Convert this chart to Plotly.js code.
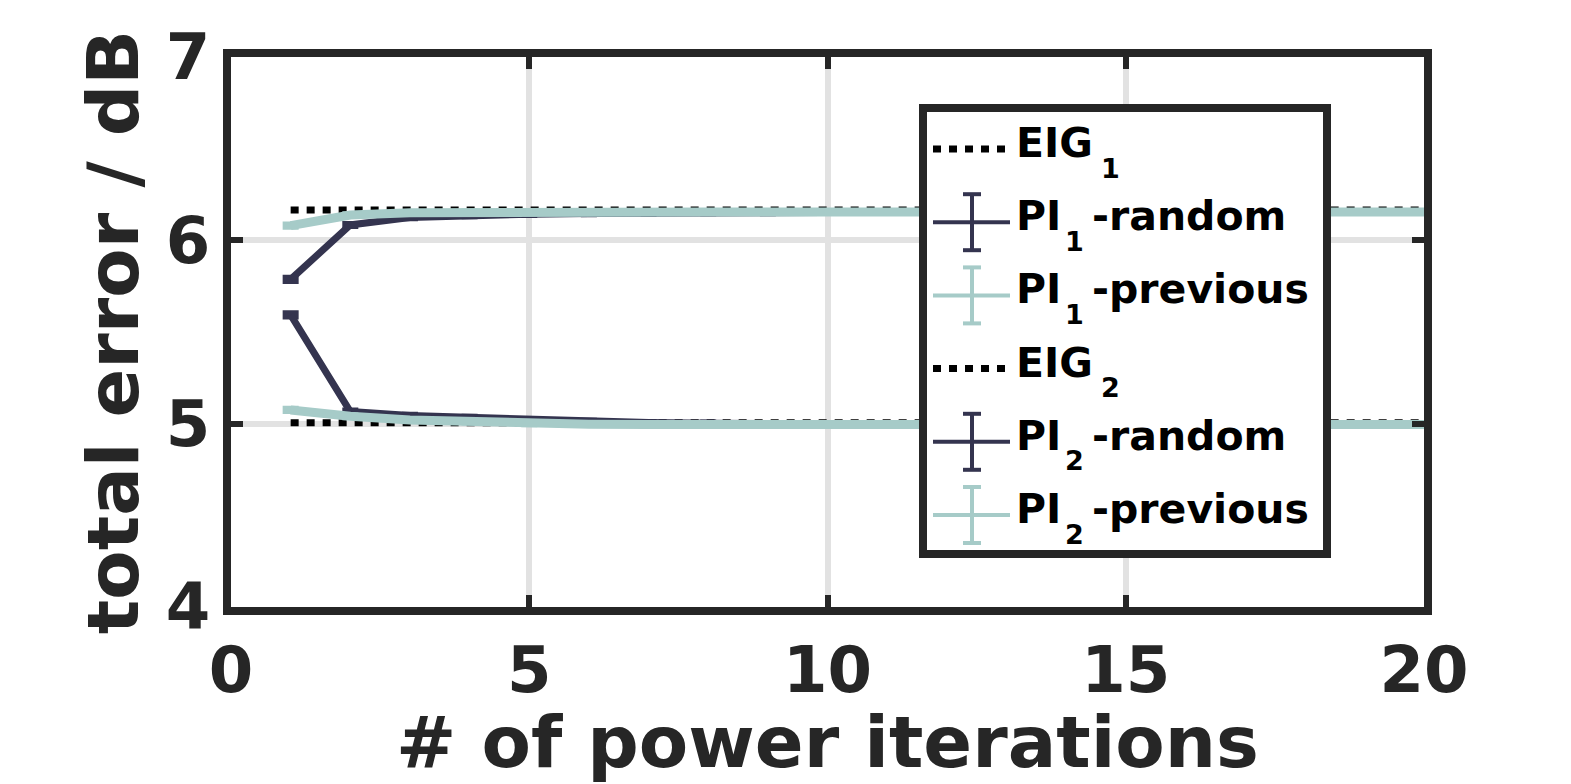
<!DOCTYPE html>
<html>
<head>
<meta charset="utf-8">
<script src="https://cdn.plot.ly/plotly-3.0.1.min.js"></script>
<style>html,body{margin:0;padding:0;background:#fff;}#plot{width:1571px;height:784px;}</style>
</head>
<body>
<div id="plot"></div>
<script>
// ---- data ----
const iterations = [1,2,3,4,5,6,7,8,9,10,11,12,13,14,15,16,17,18,19,20];
const eig1 = [6.165,6.165,6.165,6.165,6.165,6.165,6.165,6.165,6.165,6.165,6.165,6.165,6.165,6.165,6.165,6.165,6.165,6.165,6.165,6.165];
const eig2 = [5.005,5.005,5.005,5.005,5.005,5.005,5.005,5.005,5.005,5.005,5.005,5.005,5.005,5.005,5.005,5.005,5.005,5.005,5.005,5.005];
const pi1Random = [5.787,6.084,6.125,6.136,6.142,6.146,6.149,6.151,6.152,6.153,6.154,6.155,6.155,6.155,6.155,6.155,6.155,6.155,6.155,6.155];
const pi1Previous = [6.08,6.138,6.15,6.153,6.155,6.155,6.155,6.155,6.155,6.155,6.155,6.155,6.155,6.155,6.155,6.155,6.155,6.155,6.155,6.155];
const pi2Random = [5.593,5.066,5.044,5.033,5.02,5.012,5.006,5.002,4.999,4.997,4.996,4.995,4.995,4.995,4.995,4.995,4.995,4.995,4.995,4.995];
const pi2Previous = [5.075,5.04,5.02,5.01,5.0,4.997,4.995,4.995,4.995,4.995,4.995,4.995,4.995,4.995,4.995,4.995,4.995,4.995,4.995,4.995];
const pi1RandomErr = [0.006,0.003,0.002,0.002,0.001,0.001,0.001,0.001,0.001,0.001,0.001,0.001,0.001,0.001,0.001,0.001,0.001,0.001,0.001,0.001];
const pi1PreviousErr = [0.003,0.002,0.001,0.001,0.001,0.001,0.001,0.001,0.001,0.001,0.001,0.001,0.001,0.001,0.001,0.001,0.001,0.001,0.001,0.001];
const pi2RandomErr = [0.006,0.003,0.002,0.002,0.001,0.001,0.001,0.001,0.001,0.001,0.001,0.001,0.001,0.001,0.001,0.001,0.001,0.001,0.001,0.001];
const pi2PreviousErr = [0.003,0.002,0.001,0.001,0.001,0.001,0.001,0.001,0.001,0.001,0.001,0.001,0.001,0.001,0.001,0.001,0.001,0.001,0.001,0.001];
// legend labels: main part, subscript, rest
const legendMain = ['EIG','PI','PI','EIG','PI','PI'];
const legendSub = ['1','1','1','2','2','2'];
const legendRest = ['','-random','-previous','','-random','-previous'];
const xTickVals = [0,5,10,15,20];
const yTickVals = [4,5,6,7];

// ---- styles ----
const NAVY = '#34344f';
const TEAL = '#a6cbc8';
const DARK = '#262626';
const FONT = 'DejaVu Sans';

const W = 1571, H = 784;
const M = {l: 231, r: W - 1424, t: 57, b: H - 607};
const PW = W - M.l - M.r, PH = H - M.t - M.b;
const px = v => (v - M.l) / PW;
const py = v => (H - M.b - v) / PH;

function dotted(y, name) {
  return {x: iterations, y: y, name: name, mode: 'lines', showlegend: false,
    line: {color: '#000000', width: 7, dash: '8px,8px'}};
}
function pi(y, err, color, width, name) {
  return {x: iterations, y: y, name: name, mode: 'lines', showlegend: false,
    line: {color: color, width: width},
    error_y: {type: 'data', array: err, visible: true, color: color, thickness: 7, width: 8}};
}

const traces = [
  dotted(eig1, 'EIG1'),
  pi(pi1Random, pi1RandomErr, NAVY, 7, 'PI1-random'),
  pi(pi1Previous, pi1PreviousErr, TEAL, 9, 'PI1-previous'),
  dotted(eig2, 'EIG2'),
  pi(pi2Random, pi2RandomErr, NAVY, 7, 'PI2-random'),
  pi(pi2Previous, pi2PreviousErr, TEAL, 9, 'PI2-previous')
];

// ---- custom legend (box, glyphs, labels) ----
const shapes = [];
const annotations = [];
shapes.push({type: 'rect', xref: 'paper', yref: 'paper',
  x0: px(923), x1: px(1327), y0: py(108), y1: py(554),
  line: {color: DARK, width: 8}, fillcolor: '#ffffff', layer: 'above'});
const legendStyles = [
  {kind: 'dot'}, {kind: 'err', color: NAVY}, {kind: 'err', color: TEAL},
  {kind: 'dot'}, {kind: 'err', color: NAVY}, {kind: 'err', color: TEAL}
];
const rowY0 = 149, rowStep = 73.2;
const txtFont = {family: FONT, size: 41, color: '#000000', weight: 'bold'};
const subFont = {family: FONT, size: 27, color: '#000000', weight: 'bold'};
legendStyles.forEach((s, i) => {
  const cy = rowY0 + i * rowStep;
  if (s.kind === 'dot') {
    shapes.push({type: 'line', xref: 'paper', yref: 'paper', layer: 'above',
      x0: px(933), x1: px(1010), y0: py(cy), y1: py(cy),
      line: {color: '#000000', width: 7, dash: '8px,8px'}});
  } else {
    shapes.push({type: 'line', xref: 'paper', yref: 'paper', layer: 'above',
      x0: px(933), x1: px(1010), y0: py(cy), y1: py(cy), line: {color: s.color, width: 4}});
    shapes.push({type: 'line', xref: 'paper', yref: 'paper', layer: 'above',
      x0: px(972), x1: px(972), y0: py(cy - 28), y1: py(cy + 28), line: {color: s.color, width: 4}});
    shapes.push({type: 'line', xref: 'paper', yref: 'paper', layer: 'above',
      x0: px(963), x1: px(981), y0: py(cy - 28), y1: py(cy - 28), line: {color: s.color, width: 4}});
    shapes.push({type: 'line', xref: 'paper', yref: 'paper', layer: 'above',
      x0: px(963), x1: px(981), y0: py(cy + 28), y1: py(cy + 28), line: {color: s.color, width: 4}});
  }
  const isEig = legendMain[i] === 'EIG';
  annotations.push({xref: 'paper', yref: 'paper', x: px(1014), y: py(cy - 6),
    xanchor: 'left', yanchor: 'middle', showarrow: false, text: legendMain[i], font: txtFont});
  annotations.push({xref: 'paper', yref: 'paper', x: px(isEig ? 1099 : 1063), y: py(cy + 19),
    xanchor: 'left', yanchor: 'middle', showarrow: false, text: legendSub[i], font: subFont});
  if (legendRest[i]) {
    annotations.push({xref: 'paper', yref: 'paper', x: px(1090), y: py(cy - 6),
      xanchor: 'left', yanchor: 'middle', showarrow: false, text: legendRest[i], font: txtFont});
  }
});

const axisCommon = {
  showline: true, linewidth: 8, linecolor: DARK, mirror: 'ticks',
  ticks: 'inside', ticklen: 12, tickwidth: 6, tickcolor: DARK,
  showgrid: true, gridcolor: '#e2e2e2', gridwidth: 6, zeroline: false,
  tickfont: {family: FONT, size: 64, color: DARK, weight: 'bold'},
  automargin: false
};

const layout = {
  width: W, height: H,
  margin: M,
  paper_bgcolor: '#ffffff', plot_bgcolor: '#ffffff',
  showlegend: false,
  xaxis: Object.assign({}, axisCommon, {
    range: [0, 20], tickvals: xTickVals, ticktext: xTickVals.map(String),
    title: {text: '# of power iterations', font: {family: FONT, size: 72, color: DARK, weight: 'bold'}, standoff: 10}
  }),
  yaxis: Object.assign({}, axisCommon, {
    range: [4, 7], tickvals: yTickVals, ticktext: yTickVals.map(String),
    title: {text: 'total error / dB', font: {family: FONT, size: 72, color: DARK, weight: 'bold'}, standoff: 6}
  }),
  shapes: shapes,
  annotations: annotations
};

Plotly.newPlot('plot', traces, layout, {displayModeBar: false, staticPlot: true});
</script>
</body>
</html>
